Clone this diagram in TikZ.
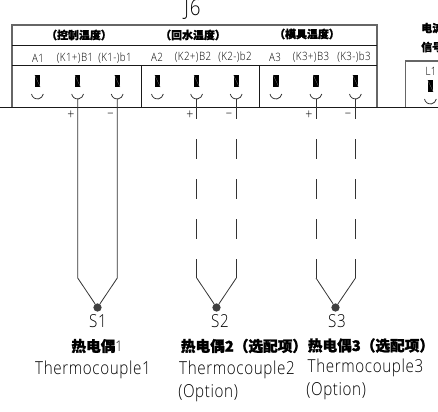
\documentclass[tikz,border=0pt]{standalone}
\usepackage{fontspec}
\setmainfont{Open Sans Light}[FakeStretch=0.85,LetterSpace=3.5]
\newfontfamily\cjk{Noto Sans CJK SC Black}[FakeBold=1.5]
\usetikzlibrary{positioning,calc}
\tikzset{
    % Frame of the connector
    frame/.style={line width=0.9pt,black!60},
    % Thin rule
    rule/.style={line width=0.6pt,black!90},
    % Wire of a thermocouple
    wire/.style={line width=0.6pt,black!80},
    % Optional wire
    optwire/.style={wire,dash pattern=on 15pt off 15pt},
    % Terminal pin
    pin/.style={fill=black,minimum width=3.8pt,minimum height=8.6pt,inner sep=0pt},
    % Junction of the wires
    junction/.style={circle,fill=black!75,minimum size=6.2pt,inner sep=0pt},
    % Texts
    grouplabel/.style={inner sep=0pt,font=\cjk\fontsize{8.2pt}{9pt}\selectfont},
    cjklabel/.style={inner sep=0pt,font=\cjk\fontsize{11pt}{12pt}\selectfont},
    pinlabel/.style={inner sep=0pt,font=\fontsize{8.6pt}{9pt}\selectfont,black},
    caption/.style={inner sep=0pt,font=\fontsize{13.4pt}{14pt}\selectfont,black},
    polarity/.style={inner sep=0pt,font=\fontsize{11pt}{11pt}\selectfont,black}
}
% Pin with its cup below
\newcommand{\terminal}[3]{
    \node[pin] (#3) at (#1,#2) {};
    \draw[black!55,line width=0.2pt] (#3.north west) -- (#3.south east);
    \draw[wire] ($(#3)+(-6,13)$) arc[start angle=190, end angle=350, radius=4.5pt];
    \coordinate (#3c) at ($(#3)+(0,18)$);
}
\begin{document}
\begin{tikzpicture}[x=0.75pt,y=-0.75pt]
    \useasboundingbox (0,0) rectangle (438,411);

    % Connector frame
    \draw[frame] (12,107) -- (12,25) -- (377,25) -- (377,107);
    \draw[rule] (12,45.7) -- (377,45.7);
    \draw[rule] (12,65.7) -- (377,65.7);
    \draw[rule] (141,65.7) -- (141,107);
    \draw[rule] (259.7,65.7) -- (259.7,107);
    \draw[rule] (0,107) -- (438,107);
    \draw[frame] (405.7,107) -- (405.7,61) -- (438,61);

    \node[caption,font=\fontsize{16.5pt}{17pt}\selectfont] (title) at (192.5,10) {J6};

    % Group titles
    \node[grouplabel] (group1) at (79,35) {（控制温度）};
    \node[grouplabel] (group2) at (193,35) {（回水温度）};
    \node[grouplabel] (group3) at (307,34) {（模具温度）};
    \node[grouplabel,anchor=west] (signal1) at (421,28) {电流};
    \node[grouplabel,anchor=west] (signal2) at (421,47) {信号};

    % Pin names
    \node[pinlabel] at (38,58) {A1};
    \node[pinlabel] at (75,58) {(K1+)B1};
    \node[pinlabel] at (115,58) {(K1-)b1};
    \node[pinlabel] at (157,57) {A2};
    \node[pinlabel] at (193,57) {(K2+)B2};
    \node[pinlabel] at (235,57) {(K2-)b2};
    \node[pinlabel] at (275,57) {A3};
    \node[pinlabel] at (311,57) {(K3+)B3};
    \node[pinlabel] at (354,57) {(K3-)b3};
    \node[pinlabel] at (431,71) {L1};

    % Terminals
    \terminal{37.5}{81}{a1}
    \terminal{77.7}{81}{b1}
    \terminal{117.3}{81}{c1}
    \terminal{157.5}{81}{a2}
    \terminal{196.7}{81}{b2}
    \terminal{236.3}{81}{c2}
    \terminal{276}{81}{a3}
    \terminal{316}{81}{b3}
    \terminal{355.5}{81}{c3}
    \terminal{430.5}{86}{l1}

    % Thermocouple junctions
    \node[junction] (s1) at (97.5,307.5) {};
    \node[junction] (s2) at (216.5,307.5) {};
    \node[junction] (s3) at (335.5,307.5) {};

    % Elbows of the wires
    \coordinate (k1) at (77.7,278);
    \coordinate (m1) at (117.3,278);
    \coordinate (k2) at (196.7,278);
    \coordinate (m2) at (236.3,278);
    \coordinate (k3) at (316,278);
    \coordinate (m3) at (355.5,278);

    % Wires
    \draw[wire] (b1c) -- (k1) -- (s1) -- (m1) -- (c1c);
    \draw[wire] (k2) -- (s2) -- (m2);
    \draw[wire] (k3) -- (s3) -- (m3);
    \draw[optwire] (b2c) -- (k2);
    \draw[optwire] (c2c) -- (m2);
    \draw[optwire] (b3c) -- (k3);
    \draw[optwire] (c3c) -- (m3);

    % Polarity
    \node[polarity] at (71,115) {+};
    \node[polarity] at (110.5,115) {–};
    \node[polarity] at (190,115) {+};
    \node[polarity] at (229,115) {–};
    \node[polarity] at (309,115) {+};
    \node[polarity] at (348,115) {–};

    % Names
    \node[caption] at (98,321) {S1};
    \node[caption] at (220,321) {S2};
    \node[caption] at (337,321) {S3};

    \node[cjklabel] at (97,346) {热电偶{\rmfamily 1}};
    \node[cjklabel] at (244,346) {热电偶2（选配项）};
    \node[cjklabel] at (371,345.5) {热电偶3（选配项）};

    \node[caption] at (93,370) {Thermocouple1};
    \node[caption] at (237,370) {Thermocouple2};
    \node[caption,anchor=west] at (178,393) {(Option)};
    \node[caption] at (365.5,368) {Thermocouple3};
    \node[caption,anchor=west] at (306,391) {(Option)};
\end{tikzpicture}
\end{document}
